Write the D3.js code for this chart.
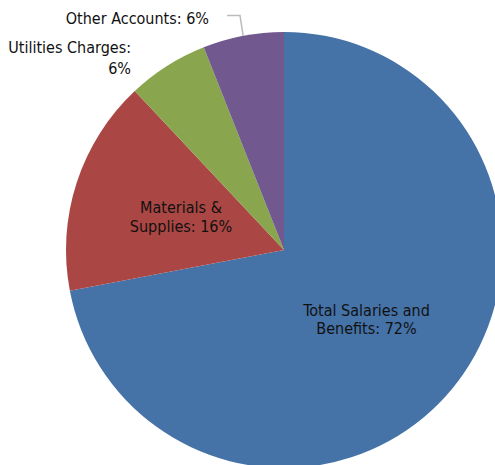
<!DOCTYPE html>
<html><head><meta charset="utf-8">
<script src="https://cdn.jsdelivr.net/npm/d3@7"></script>
<style>body{margin:0;background:#fff}svg{display:block}text{font-family:"DejaVu Sans Condensed","DejaVu Sans",sans-serif;font-stretch:condensed;font-size:16px;fill:#111}</style>
</head><body>
<svg id="c" width="495" height="465"></svg>
<script>
const categories = ["Total Salaries and Benefits", "Materials & Supplies", "Utilities Charges", "Other Accounts"];
const values = [72, 16, 6, 6];
const colors = ["#4572A7", "#AA4643", "#89A54E", "#71588F"];
const labelLines = [["Total Salaries and", "Benefits: 72%"], ["Materials &", "Supplies: 16%"], ["Utilities Charges:", "6%"], ["Other Accounts: 6%"]];

const svg = d3.select("#c");
const cx = 284, cy = 250, r = 218;
const g = svg.append("g").attr("transform", `translate(${cx},${cy})`);
const pie = d3.pie().sort(null).value(d => d)(values);
const arc = d3.arc().innerRadius(0).outerRadius(r);
g.selectAll("path").data(pie).enter().append("path")
  .attr("d", arc).attr("fill", (d, i) => colors[i]);

// inside labels
const inside = [{i:0, x:366.5, y:316, dy:18}, {i:1, x:181, y:213, dy:18.5}];
inside.forEach(o => {
  const t = svg.append("text").attr("text-anchor", "middle");
  labelLines[o.i].forEach((l, k) => t.append("tspan").attr("x", o.x).attr("y", o.y + k * o.dy).text(l));
});
// utilities label
const tu = svg.append("text").attr("text-anchor", "end");
labelLines[2].forEach((l, k) => tu.append("tspan").attr("x", 131).attr("y", 53 + k * 20.5).text(l));
// other label
svg.append("text").attr("text-anchor", "end").attr("x", 209).attr("y", 24).text(labelLines[3][0]);
// leader line for Other Accounts
const mid = (pie[3].startAngle + pie[3].endAngle) / 2;
const ex = cx + Math.sin(mid) * r, ey = cy - Math.cos(mid) * r;
svg.append("path").attr("d", `M227,15.5 L240,15.5 L${ex},${ey}`)
  .attr("fill", "none").attr("stroke", "#bbb").attr("stroke-width", 1.5);
</script>
</body></html>
